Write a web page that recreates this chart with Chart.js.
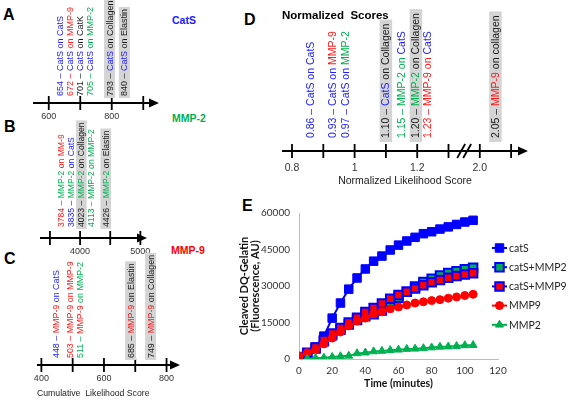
<!DOCTYPE html>
<html>
<head>
<meta charset="utf-8">
<script src="https://cdn.jsdelivr.net/npm/chart.js@4.4.1/dist/chart.umd.min.js"></script>
<style>
  body { margin: 0; background: #fff; }
  #page { position: relative; width: 568px; height: 400px; overflow: hidden; font-family: "Liberation Sans", Arial, sans-serif; }
  #page canvas { position: absolute; }
  .tag { position: absolute; line-height: 1; white-space: nowrap; }
  .letter { font-size: 16px; font-weight: bold; color: #000; }
  .head { font-size: 10.5px; font-weight: bold; }
</style>
</head>
<body>
<div id="page">
  <div class="tag letter" style="left:3px;top:7px">A</div>
  <div class="tag letter" style="left:4px;top:119px">B</div>
  <div class="tag letter" style="left:4px;top:251px">C</div>
  <div class="tag letter" style="left:244px;top:12px">D</div>
  <div class="tag letter" style="left:242px;top:198px">E</div>
  <div class="tag head" style="left:172px;top:15px;color:#2020ff">CatS</div>
  <div class="tag head" style="left:172px;top:113px;color:#00b050">MMP-2</div>
  <div class="tag head" style="left:171px;top:245px;color:#ff0000">MMP-9</div>
  <canvas id="chartA" width="215" height="125" style="left:0;top:0"></canvas>
  <canvas id="chartB" width="215" height="160" style="left:0;top:100px"></canvas>
  <canvas id="chartC" width="215" height="165" style="left:0;top:235px"></canvas>
  <canvas id="chartD" width="328" height="190" style="left:240px;top:0"></canvas>
  <canvas id="chartE" width="338" height="210" style="left:230px;top:190px"></canvas>
</div>
<script>
// panel A - CatS cumulative likelihood scores
const catsScores = [654, 672, 701, 705, 793, 840];
const catsSubstrates = ["CatS", "MMP-9", "CatK", "MMP-2", "Collagen", "Elastin"];
const catsTicks = [600, 700, 800, 900];
const catsTickText = ["600", "", "800", ""];

// panel B - MMP-2
const mmp2Scores = [3784, 3835, 4023, 4113, 4426];
const mmp2Substrates = ["MM-9", "CatS", "Collagen", "MMP-2", "Elastin"];
const mmp2Ticks = [3500, 4000, 4500, 5000];
const mmp2TickText = ["", "4000", "", "5000"];

// panel C - MMP-9
const mmp9Scores = [448, 503, 511, 685, 749];
const mmp9Substrates = ["CatS", "MMP-9", "MMP-2", "Elastin", "Collagen"];
const mmp9Ticks = [400, 500, 600, 700, 800];
const mmp9TickText = ["400", "", "600", "", "800"];

// panel D - normalized scores
const normScores = [0.86, 0.93, 0.97, 1.10, 1.15, 1.20, 1.23, 2.05];
const normEnzymes = ["CatS", "CatS", "CatS", "CatS", "MMP-2", "MMP-2", "MMP-9", "MMP-9"];
const normSubstrates = ["CatS", "MMP-9", "MMP-2", "Collagen", "CatS", "Collagen", "CatS", "collagen"];
const normTicks = [0.8, 0.9, 1.0, 1.1, 1.2, 1.3, 2.0, 2.1];
const normTickText = ["0.8", "", "1", "", "1.2", "", "2.0", ""];

// panel E - DQ-gelatin cleavage over time
const timeMinutes = [0, 5, 10, 15, 20, 25, 30, 35, 40, 45, 50, 55, 60, 65, 70, 75, 80, 85, 90, 95, 100, 105];
const catSValues = [500, 2500, 4900, 9400, 16800, 23000, 28700, 33300, 37000, 40200, 42300, 44800, 46800, 48500, 50000, 51500, 52300, 53400, 54300, 55300, 56300, 57000];
const catSMmp2Values = [700, 2400, 4300, 7300, 9800, 12000, 14200, 16000, 17600, 18400, 19900, 22800, 25200, 27600, 29800, 31600, 33000, 34300, 35300, 36100, 36900, 37500];
const catSMmp9Values = [800, 2600, 4700, 7800, 10500, 12700, 15000, 17000, 19300, 21000, 22800, 24800, 26300, 27600, 29000, 30300, 31500, 32500, 33400, 34100, 34700, 35200];
const mmp9Values = [1200, 2600, 3700, 6200, 8600, 11100, 13600, 15600, 16800, 18500, 19400, 20600, 21400, 22200, 23000, 23500, 24000, 24400, 25000, 25500, 26100, 26600];
const mmp2Values = [null, 0, 400, 500, 800, 1100, 1300, 2300, 2600, 3100, 3300, 3600, 3800, 4100, 4200, 4400, 4700, 5000, 5100, 5300, 5600, 5700];

const BLUE = "#2020ff";
const RED = "#ff1a1a";
const GREEN = "#00b050";
const BLACK = "#1a1a1a";
const nameColors = { "CatS": BLUE, "MMP-9": RED, "MM-9": RED, "MMP-2": GREEN };
const ecm = ["Collagen", "collagen", "Elastin"];
const SANS = '"Liberation Sans", Arial, sans-serif';

// "654 – CatS on MMP-9" split into coloured pieces
function labelSegments(num, enzyme, substrate, leadByEnzyme) {
    const subColor = nameColors[substrate] || BLACK;
    const enzColor = nameColors[enzyme] || BLACK;
    const lead = (leadByEnzyme && nameColors[substrate]) ? enzColor : subColor;
    return [[num + " – ", lead], [enzyme, enzColor], [" on ", lead], [substrate, subColor]];
}

// push overlapping labels apart, keeping each cluster centred on its values
function spread(xs, gap) {
    let groups = xs.map(x => ({ sum: x, n: 1, start: x }));
    let merged = true;
    while (merged) {
        merged = false;
        for (let i = 0; i < groups.length - 1; i++) {
            const a = groups[i], b = groups[i + 1];
            if (b.start - (a.start + (a.n - 1) * gap) < gap) {
                const g = { sum: a.sum + b.sum, n: a.n + b.n };
                g.start = g.sum / g.n - (g.n - 1) * gap / 2;
                groups.splice(i, 2, g);
                merged = true;
                break;
            }
        }
    }
    const out = [];
    groups.forEach(g => { for (let k = 0; k < g.n; k++) out.push(g.start + k * gap); });
    return out;
}

function numberLinePlugin(cfg) {
    return {
        id: "numberLine",
        afterDraw(chart) {
            const ctx = chart.ctx;
            const area = chart.chartArea;
            const xs = chart.scales.x;
            const y0 = area.bottom;
            ctx.save();
            ctx.strokeStyle = "#000";
            ctx.fillStyle = "#000";
            ctx.lineWidth = 2;
            ctx.beginPath();
            ctx.moveTo(area.left, y0);
            ctx.lineTo(area.right - 6, y0);
            ctx.stroke();
            ctx.beginPath();
            ctx.moveTo(area.right, y0);
            ctx.lineTo(area.right - 10, y0 - 4.5);
            ctx.lineTo(area.right - 10, y0 + 4.5);
            ctx.closePath();
            ctx.fill();
            ctx.lineWidth = 1.8;
            for (const t of xs.ticks) {
                const x = xs.getPixelForValue(t.value);
                ctx.beginPath();
                ctx.moveTo(x, y0 - 7);
                ctx.lineTo(x, y0 + 7);
                ctx.stroke();
            }
            if (cfg.breakAt) {
                const bx = xs.getPixelForValue(cfg.breakAt);
                for (const d of [-3, 3]) {
                    ctx.beginPath();
                    ctx.moveTo(bx + d - 4, y0 + 7);
                    ctx.lineTo(bx + d + 4, y0 - 7);
                    ctx.stroke();
                }
            }

            ctx.font = cfg.fontSize + "px " + SANS;
            ctx.textBaseline = "middle";
            ctx.textAlign = "left";
            const ideal = chart.getDatasetMeta(0).data.map(p => p.x);
            const placed = spread(ideal, cfg.spacing);
            cfg.labels.forEach((segs, i) => {
                const x = placed[i];
                const w = segs.reduce((s, seg) => s + ctx.measureText(seg[0]).width, 0);
                const base = y0 - cfg.gap;
                if (cfg.shaded[i]) {
                    ctx.fillStyle = "#d4d4d4";
                    ctx.fillRect(x - cfg.fontSize / 2 - 1, base - w - 2 * cfg.pad, cfg.fontSize + 2, w + 2 * cfg.pad);
                }
                ctx.save();
                ctx.translate(x, base - cfg.pad);
                ctx.rotate(-Math.PI / 2);
                let off = 0;
                for (const [t, c] of segs) {
                    ctx.fillStyle = c;
                    ctx.fillText(t, off, 0.5);
                    off += ctx.measureText(t).width;
                }
                ctx.restore();
            });
            ctx.restore();
        }
    };
}

function numberLine(id, cfg) {
    const toAxis = cfg.toAxis || (v => v);
    return new Chart(document.getElementById(id), {
        type: "scatter",
        data: {
            datasets: [{ data: cfg.scores.map(s => ({ x: toAxis(s), y: 0 })), pointRadius: 0 }]
        },
        options: {
            responsive: false,
            animation: false,
            events: [],
            layout: { padding: cfg.padding },
            plugins: {
                legend: { display: false },
                tooltip: { enabled: false },
                title: cfg.title || { display: false }
            },
            scales: {
                x: {
                    type: "linear",
                    min: cfg.min,
                    max: cfg.max,
                    grid: { display: false, drawTicks: false },
                    border: { display: false },
                    afterBuildTicks: s => { s.ticks = cfg.ticks.map(v => ({ value: toAxis(v) })); },
                    afterFit: s => { s.height = cfg.axisHeight; },
                    ticks: {
                        autoSkip: false,
                        maxRotation: 0,
                        padding: cfg.tickPadding,
                        color: "#333",
                        font: { family: SANS, size: cfg.tickSize },
                        callback: (v, i) => cfg.tickText[i]
                    },
                    title: cfg.axisTitle || { display: false }
                },
                y: { display: false, min: 0, max: 1 }
            }
        },
        plugins: [numberLinePlugin(cfg)]
    });
}

numberLine("chartA", {
    scores: catsScores, ticks: catsTicks, tickText: catsTickText,
    min: 550, max: 950, padding: { left: 33, right: 56, top: 0, bottom: 2 },
    axisHeight: 20, tickPadding: 8, tickSize: 9,
    labels: catsScores.map((s, i) => labelSegments(String(s), "CatS", catsSubstrates[i], false)),
    shaded: catsSubstrates.map(s => ecm.includes(s)),
    fontSize: 9, spacing: 10, gap: 5, pad: 2
});

numberLine("chartB", {
    scores: mmp2Scores, ticks: mmp2Ticks, tickText: mmp2TickText,
    min: 3335, max: 5110, padding: { left: 40, right: 68, top: 0, bottom: 2 },
    axisHeight: 20, tickPadding: 8, tickSize: 9,
    labels: mmp2Scores.map((s, i) => labelSegments(String(s), "MMP-2", mmp2Substrates[i], false)),
    shaded: mmp2Substrates.map(s => ecm.includes(s)),
    fontSize: 8.6, spacing: 10, gap: 9, pad: 2
});

numberLine("chartC", {
    scores: mmp9Scores, ticks: mmp9Ticks, tickText: mmp9TickText,
    min: 386, max: 843, padding: { left: 37, right: 35, top: 0, bottom: 0 },
    axisHeight: 35, tickPadding: 8, tickSize: 9,
    axisTitle: {
        display: true, text: "Cumulative  Likelihood Score", align: "start", color: "#222",
        font: { family: SANS, size: 8.7 }, padding: { top: 0, bottom: 1 }
    },
    labels: mmp9Scores.map((s, i) => labelSegments(String(s), "MMP-9", mmp9Substrates[i], false)),
    shaded: mmp9Substrates.map(s => ecm.includes(s)),
    fontSize: 8.9, spacing: 10, gap: 5, pad: 2
});

// broken axis: values above the break are shifted left by 0.6
numberLine("chartD", {
    scores: normScores, ticks: normTicks, tickText: normTickText,
    toAxis: v => (v > 1.5 ? v - 0.6 : v), breakAt: 1.35,
    min: 0.768, max: 1.554, padding: { left: 42, right: 40, top: 0, bottom: 3 },
    axisHeight: 36, tickPadding: 11, tickSize: 10.5,
    title: {
        display: true, text: "Normalized  Scores", align: "start", color: "#000",
        font: { family: SANS, size: 11.5, weight: "bold" }, padding: { top: 9, bottom: 0 }
    },
    axisTitle: {
        display: true, text: "Normalized Likelihood Score", color: "#222",
        font: { family: SANS, size: 10.5 }, padding: { top: 0, bottom: 0 }
    },
    labels: normScores.map((s, i) => labelSegments(s.toFixed(2), normEnzymes[i], normSubstrates[i], true)),
    shaded: normSubstrates.map(s => ecm.includes(s)),
    fontSize: 10.5, spacing: 12, gap: 9, pad: 4
});

// panel E
const seriesNames = ["catS", "catS+MMP2", "catS+MMP9", "MMP9", "MMP2"];
const seriesValues = [catSValues, catSMmp2Values, catSMmp9Values, mmp9Values, mmp2Values];
const seriesLine = ["#0000ff", "#0000ff", "#0000ff", "#ff0000", "#00b050"];
const seriesFill = ["#0000ff", "#00b050", "#ff0000", "#ff0000", "#00b050"];
const seriesEdge = ["#0000ff", "#0000ff", "#0000ff", "#ff0000", "#00b050"];
const seriesShape = ["rect", "rect", "rect", "circle", "triangle"];
const seriesRadius = [6, 6, 6, 4, 4.6];
const seriesEdgeWidth = [1, 2, 2, 1, 1];
const seriesOrder = [4, 3, 2, 1, 0];

const LEGEND_FONT = '"Lato", "Liberation Sans", sans-serif';

const sideLegend = {
    id: "sideLegend",
    afterDraw(chart) {
        const ctx = chart.ctx;
        const lx = chart.chartArea.right - 6;
        const top = chart.chartArea.top + 35;
        ctx.save();
        chart.data.datasets.forEach((ds, i) => {
            const y = top + i * 19.2;
            ctx.strokeStyle = ds.borderColor;
            ctx.lineWidth = 2;
            ctx.beginPath();
            ctx.moveTo(lx, y);
            ctx.lineTo(lx + 15, y);
            ctx.stroke();
            ctx.fillStyle = ds.pointBackgroundColor;
            ctx.strokeStyle = ds.pointBorderColor;
            ctx.lineWidth = ds.pointBorderWidth;
            Chart.helpers.drawPoint(ctx, {
                pointStyle: ds.pointStyle, radius: ds.pointRadius, rotation: 0, borderWidth: ds.pointBorderWidth
            }, lx + 7.5, y);
            ctx.fillStyle = "#222";
            ctx.font = "10.5px " + LEGEND_FONT;
            ctx.textBaseline = "middle";
            ctx.textAlign = "left";
            ctx.fillText(ds.label, lx + 17, y + 0.5);
        });
        ctx.restore();
    }
};

new Chart(document.getElementById("chartE"), {
    type: "line",
    data: {
        datasets: seriesNames.map((name, i) => ({
            label: name,
            data: timeMinutes.map((t, k) => ({ x: t, y: seriesValues[i][k] })).filter(p => p.y !== null),
            borderColor: seriesLine[i],
            borderWidth: 2,
            pointStyle: seriesShape[i],
            pointRadius: seriesRadius[i],
            pointBackgroundColor: seriesFill[i],
            pointBorderColor: seriesEdge[i],
            pointBorderWidth: seriesEdgeWidth[i],
            tension: 0,
            order: seriesOrder[i]
        }))
    },
    options: {
        responsive: false,
        animation: false,
        events: [],
        layout: { padding: { left: 0, top: 23, right: 70, bottom: 10 } },
        plugins: { legend: { display: false }, tooltip: { enabled: false } },
        scales: {
            x: {
                type: "linear",
                min: 0,
                max: 120,
                grid: { display: false, drawTicks: false },
                border: { color: "#bdbdbd", width: 1 },
                afterFit: s => { s.height = 31; },
                ticks: { stepSize: 20, padding: 6, color: "#333", font: { family: LEGEND_FONT, size: 10 } },
                title: {
                    display: true, text: "Time (minutes)", color: "#111",
                    font: { family: LEGEND_FONT, size: 10.5, weight: "bold" }, padding: { top: 0, bottom: 0 }
                }
            },
            y: {
                min: 0,
                max: 60000,
                grid: { display: false, drawTicks: false },
                border: { color: "#bdbdbd", width: 1 },
                afterFit: s => { s.width = 69; },
                ticks: { stepSize: 15000, padding: 9, color: "#333", font: { family: LEGEND_FONT, size: 10 },
                         callback: v => String(v) },
                title: {
                    display: true, text: ["Cleaved DQ-Gelatin", "(Fluorescence, AU)"], color: "#111",
                    font: { family: LEGEND_FONT, size: 11, weight: "bold", lineHeight: 1.0 },
                    padding: { top: 9, bottom: 0 }
                }
            }
        }
    },
    plugins: [sideLegend]
});
</script>
</body>
</html>
